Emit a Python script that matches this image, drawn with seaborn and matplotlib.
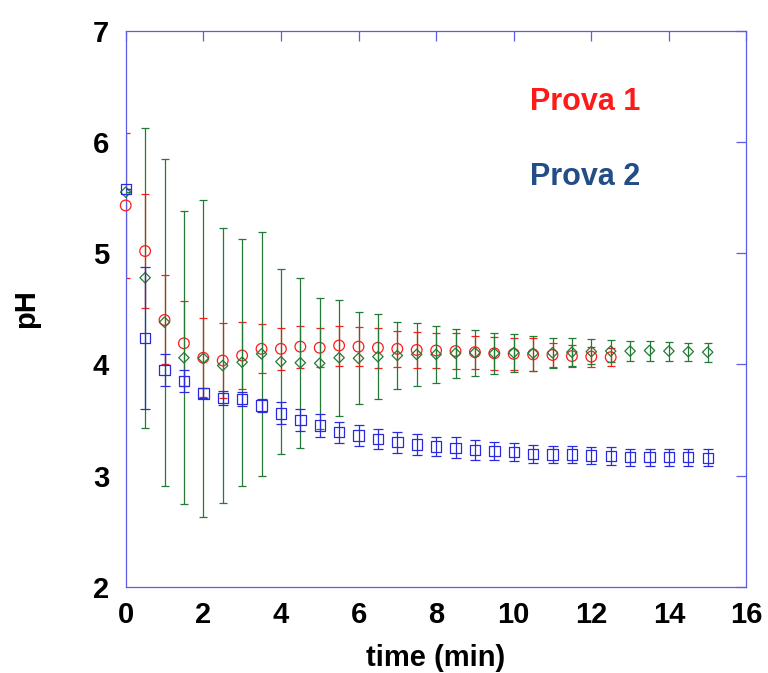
import numpy as np
import pandas as pd
import matplotlib
matplotlib.use("Agg")
import matplotlib.pyplot as plt
import seaborn as sns

# time axis (min)
t_prova1 = [0, 0.5, 1, 1.5, 2, 2.5, 3, 3.5, 4, 4.5, 5, 5.5, 6, 6.5, 7, 7.5,
            8, 8.5, 9, 9.5, 10, 10.5, 11, 11.5, 12, 12.5]
t_full = [0, 0.5, 1, 1.5, 2, 2.5, 3, 3.5, 4, 4.5, 5, 5.5, 6, 6.5, 7, 7.5,
          8, 8.5, 9, 9.5, 10, 10.5, 11, 11.5, 12, 12.5, 13, 13.5, 14, 14.5, 15]

# Prova 1 (red circles)
ph_prova1 = [5.43, 5.02, 4.40, 4.19, 4.06, 4.035, 4.08, 4.14, 4.14, 4.16, 4.15,
             4.17, 4.16, 4.15, 4.14, 4.13, 4.125, 4.12, 4.11, 4.10, 4.095, 4.09,
             4.085, 4.075, 4.07, 4.065]
err_prova1 = [0.65, 0.51, 0.40, 0.38, 0.355, 0.34, 0.30, 0.22, 0.19, 0.19, 0.175,
              0.18, 0.175, 0.18, 0.165, 0.16, 0.155, 0.16, 0.15, 0.15, 0.145, 0.15,
              0.11, 0.10, 0.09, 0.08]

# third series (green diamonds)
ph_green = [5.55, 4.78, 4.38, 4.06, 4.055, 3.99, 4.02, 4.095, 4.025, 4.015, 4.01,
            4.06, 4.055, 4.07, 4.08, 4.09, 4.09, 4.10, 4.105, 4.10, 4.105, 4.10,
            4.105, 4.11, 4.115, 4.12, 4.12, 4.125, 4.12, 4.115, 4.11]
err_green = [0.0, 1.35, 1.47, 1.32, 1.425, 1.24, 1.11, 1.095, 0.835, 0.765, 0.59,
             0.52, 0.415, 0.38, 0.305, 0.28, 0.26, 0.22, 0.205, 0.185, 0.17, 0.16,
             0.135, 0.125, 0.11, 0.10, 0.09, 0.09, 0.085, 0.08, 0.085]

# Prova 2 (blue squares)
ph_prova2 = [5.58, 4.24, 3.95, 3.85, 3.74, 3.70, 3.69, 3.63, 3.56, 3.50, 3.45,
             3.39, 3.36, 3.33, 3.30, 3.28, 3.26, 3.25, 3.23, 3.22, 3.21, 3.195,
             3.19, 3.19, 3.18, 3.175, 3.165, 3.165, 3.165, 3.165, 3.16]
err_prova2 = [0.0, 0.64, 0.145, 0.10, 0.045, 0.063, 0.06, 0.058, 0.10, 0.096, 0.105,
              0.093, 0.093, 0.088, 0.096, 0.096, 0.088, 0.093, 0.09, 0.08, 0.08, 0.078,
              0.078, 0.078, 0.078, 0.078, 0.075, 0.075, 0.075, 0.075, 0.075]

x_ticks = [0, 2, 4, 6, 8, 10, 12, 14, 16]
y_ticks = [2, 3, 4, 5, 6, 7]

RED = "#ff1a1a"
GREEN = "#237a37"
BLUE = "#2a2ae0"
FRAME = "#5c5ce6"
TITLE2 = "#234d87"

sns.set_theme(style="white")
plt.rcParams["font.family"] = ["Liberation Sans", "DejaVu Sans"]

fig = plt.figure(figsize=(7.68, 6.73), dpi=100)
ax = fig.add_axes([0.1637, 0.1282, 0.8083, 0.8258])

series = [
    (t_prova1, ph_prova1, err_prova1, RED, "o", 59, 2.9),
    (t_full, ph_green, err_green, GREEN, "D", 28, 3.2),
    (t_full, ph_prova2, err_prova2, BLUE, "s", 56, 3.4),
]

for z, (t, ph, err, col, mk, size, cap) in enumerate(series):
    df = pd.DataFrame({"time": t, "pH": ph, "err": err})
    ax.errorbar(df["time"], df["pH"], yerr=df["err"], fmt="none",
                ecolor=col, elinewidth=0.9, capsize=cap, capthick=0.9,
                zorder=2 + 2 * z, clip_on=True)
    sns.scatterplot(data=df, x="time", y="pH", ax=ax, marker=mk, s=size,
                    color=col, facecolor="none", edgecolor=col,
                    linewidth=0.9, zorder=3 + 2 * z, legend=False, clip_on=False)

ax.set_xlim(0, 16)
ax.set_ylim(2, 7)
ax.set_xticks(x_ticks)
ax.set_yticks(y_ticks)
ax.set_xticklabels([str(v) for v in x_ticks])
ax.set_yticklabels([str(v) for v in y_ticks])

for sp in ax.spines.values():
    sp.set_visible(True)
    sp.set_color(FRAME)
    sp.set_linewidth(0.9)

ax.tick_params(axis="both", which="major", direction="in", length=7.2,
               width=0.9, color=FRAME, top=True, right=True,
               labelsize=21, labelcolor="black")
ax.tick_params(axis="x", pad=10)
ax.tick_params(axis="y", pad=12)
for lab in ax.get_xticklabels() + ax.get_yticklabels():
    lab.set_fontweight("bold")

ax.set_xlabel("time (min)", fontsize=21, fontweight="bold", color="black",
              va="center")
ax.set_ylabel("pH", fontsize=21, fontweight="bold", color="black",
              va="center")
ax.xaxis.set_label_coords(0.5, -0.128)
ax.yaxis.set_label_coords(-0.161, 0.5)
ax.grid(False)

ax.text(0.651, 0.858, "Prova 1", transform=ax.transAxes, color=RED,
        fontsize=22, fontweight="bold", ha="left", va="baseline")
ax.text(0.651, 0.723, "Prova 2", transform=ax.transAxes, color=TITLE2,
        fontsize=22, fontweight="bold", ha="left", va="baseline")

fig.savefig("out.png", dpi=100, facecolor="white")
